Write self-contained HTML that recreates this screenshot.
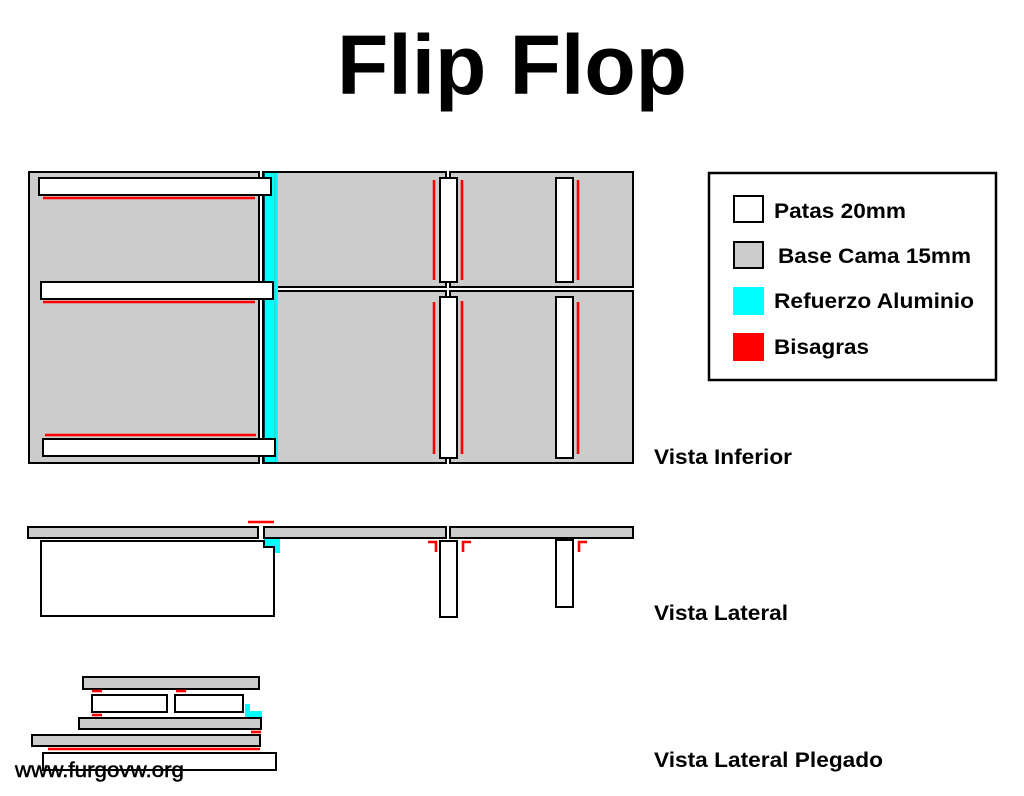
<!DOCTYPE html>
<html><head><meta charset="utf-8"><style>
html,body{margin:0;padding:0;background:#fff;}
svg{display:block;}
text{font-family:"Liberation Sans",Arial,sans-serif;font-weight:bold;fill:#000;}
</style></head><body>
<svg width="1024" height="796" viewBox="0 0 1024 796" xmlns="http://www.w3.org/2000/svg">
<rect width="1024" height="796" fill="#fff"/>
<text x="512" y="94" font-size="84" text-anchor="middle">Flip Flop</text>

<g stroke="#000" stroke-width="2">
<rect x="29" y="172" width="230" height="291" fill="#ccc"/>
<rect x="263" y="172" width="183" height="115" fill="#ccc"/>
<rect x="450" y="172" width="183" height="115" fill="#ccc"/>
<rect x="263" y="291" width="183" height="172" fill="#ccc"/>
<rect x="450" y="291" width="183" height="172" fill="#ccc"/>
</g>
<rect x="264" y="173" width="14" height="289" fill="#0ff"/>
<line x1="275" y1="173" x2="275" y2="462" stroke="#5bb" stroke-width="1"/>
<line x1="264" y1="173" x2="264" y2="462" stroke="#000" stroke-width="1.5"/>
<g stroke="#f00" stroke-width="2.6">
<line x1="43" y1="198" x2="255" y2="198"/>
<line x1="43" y1="302" x2="255" y2="302"/>
<line x1="45" y1="435" x2="256" y2="435"/>
<line x1="434" y1="180" x2="434" y2="280"/>
<line x1="462" y1="180" x2="462" y2="280"/>
<line x1="434" y1="302" x2="434" y2="454"/>
<line x1="462" y1="301" x2="462" y2="454"/>
<line x1="578" y1="180" x2="578" y2="280"/>
<line x1="578" y1="302" x2="578" y2="454"/>
</g>
<g stroke="#000" stroke-width="2" fill="#fff">
<rect x="39" y="178" width="232" height="17"/>
<rect x="41" y="282" width="232" height="17"/>
<rect x="43" y="439" width="232" height="17"/>
<rect x="440" y="178" width="17" height="104"/>
<rect x="440" y="297" width="17" height="161"/>
<rect x="556" y="178" width="17" height="104"/>
<rect x="556" y="297" width="17" height="161"/>
</g>

<g stroke="#000" stroke-width="2">
<rect x="28" y="527" width="230" height="11" fill="#ccc"/>
<rect x="264" y="527" width="182" height="11" fill="#ccc"/>
<rect x="450" y="527" width="183" height="11" fill="#ccc"/>
</g>
<path d="M264 539 H280 V553 H275 V547 H264Z" fill="#0ff"/>
<g stroke="#000" stroke-width="2" fill="#fff">
<path d="M41 541 H264 V547 H274 V616 H41Z"/>
<rect x="440" y="541" width="17" height="76"/>
<rect x="556" y="540" width="17" height="67"/>
</g>
<g stroke="#f00" stroke-width="2.6" fill="none">
<line x1="248" y1="522" x2="274" y2="522"/>
<path d="M428 542 H436 V552"/>
<path d="M471 542 H463 V552"/>
<path d="M587 542 H579 V552"/>
</g>

<path d="M245 704 H250 V711 H262 V717 H245Z" fill="#0ff"/>
<g stroke="#000" stroke-width="2">
<rect x="83" y="677" width="176" height="12" fill="#ccc"/>
<rect x="92" y="695" width="75" height="17" fill="#fff"/>
<rect x="175" y="695" width="68" height="17" fill="#fff"/>
<rect x="79" y="718" width="182" height="11" fill="#ccc"/>
<rect x="32" y="735" width="228" height="11" fill="#ccc"/>
<rect x="43" y="753" width="233" height="17" fill="#fff"/>
</g>
<g stroke="#f00" stroke-width="2.6">
<line x1="92" y1="691" x2="102" y2="691"/>
<line x1="176" y1="691" x2="186" y2="691"/>
<line x1="92" y1="715" x2="102" y2="715"/>
<line x1="251" y1="732" x2="261" y2="732"/>
<line x1="48" y1="749" x2="260" y2="749"/>
</g>
<text x="15" y="777" font-size="21" textLength="169" lengthAdjust="spacingAndGlyphs" style="font-weight:normal" stroke="#000" stroke-width="0.5">www.furgovw.org</text>

<rect x="709" y="173" width="287" height="207" fill="#fff" stroke="#000" stroke-width="2.5"/>
<rect x="734" y="196" width="29" height="26" fill="#fff" stroke="#000" stroke-width="2"/>
<rect x="734" y="242" width="29" height="26" fill="#ccc" stroke="#000" stroke-width="2"/>
<rect x="733" y="287" width="31" height="28" fill="#0ff"/>
<rect x="733" y="333" width="31" height="28" fill="#f00"/>
<text x="774" y="218" font-size="21" textLength="132" lengthAdjust="spacingAndGlyphs">Patas 20mm</text>
<text x="778" y="263" font-size="21" textLength="193" lengthAdjust="spacingAndGlyphs">Base Cama 15mm</text>
<text x="774" y="308" font-size="21" textLength="200" lengthAdjust="spacingAndGlyphs">Refuerzo Aluminio</text>
<text x="774" y="354" font-size="21" textLength="95" lengthAdjust="spacingAndGlyphs">Bisagras</text>

<text x="654" y="464" font-size="21" textLength="138" lengthAdjust="spacingAndGlyphs">Vista Inferior</text>
<text x="654" y="620" font-size="21" textLength="134" lengthAdjust="spacingAndGlyphs">Vista Lateral</text>
<text x="654" y="767" font-size="21" textLength="229" lengthAdjust="spacingAndGlyphs">Vista Lateral Plegado</text>
</svg>
</body></html>
